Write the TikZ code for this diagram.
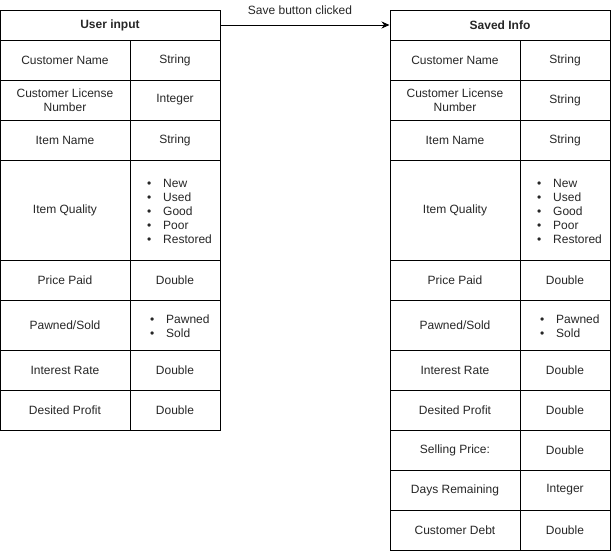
\documentclass[tikz,border=0pt]{standalone}
\usepackage{fontspec}
\setmainfont{Liberation Sans}
\usetikzlibrary{arrows.meta}
\newcommand{\trow}[6]{%
  \node[cell, minimum width=130pt, minimum height={(#4-#3)*1pt}] (#1a) at ({#2+65},{(#3+#4)/2}) {#5};
  \node[cell, minimum width=90pt, minimum height={(#4-#3)*1pt}] (#1b) at ({#2+175},{(#3+#4)/2}) {#6};
}
\newcommand{\lrow}[7]{%
  \node[cell, minimum width=130pt, minimum height={(#4-#3)*1pt}] (#1a) at ({#2+65},{(#3+#4)/2}) {#5};
  \node[cell, minimum width=90pt, minimum height={(#4-#3)*1pt}] (#1b) at ({#2+175},{(#3+#4)/2}) {};
  \node[listtext, anchor=west] (#1c) at ({#2+#7},{(#3+#4)/2+1}) {#6};
}
\newcommand{\bitem}[1]{\makebox[16pt][l]{\textbullet}#1}
\begin{document}
\begin{tikzpicture}[x=1pt,y=-1pt,
  cell/.style={draw=black, line width=1pt, rectangle, inner sep=0pt, align=center, font=\fontsize{12}{14}\selectfont, text=black!85},
  hdr/.style={cell, font=\fontsize{12}{14}\selectfont\bfseries},
  listtext/.style={inner sep=0pt, align=left, font=\fontsize{12}{14}\selectfont, text=black!85},
  conn/.style={draw=black, line width=1pt, -{Stealth[length=8pt,width=7pt]}}]
\useasboundingbox (0,0) rectangle (611,552);
% left table
\node[hdr, minimum width=220pt, minimum height=30pt] (Lh) at (110,25) {User input};
\trow{L1}{0}{40}{80}{Customer Name}{String}
\trow{L2}{0}{80}{120}{Customer License\\Number}{Integer}
\trow{L3}{0}{120}{160}{Item Name}{String}
\lrow{L4}{0}{160}{260}{Item Quality}{\bitem{New}\\\bitem{Used}\\\bitem{Good}\\\bitem{Poor}\\\bitem{Restored}}{147}
\trow{L5}{0}{260}{300}{Price Paid}{Double}
\lrow{L6}{0}{300}{350}{Pawned/Sold}{\bitem{Pawned}\\\bitem{Sold}}{150}
\trow{L7}{0}{350}{390}{Interest Rate}{Double}
\trow{L8}{0}{390}{430}{Desited Profit}{Double}
% right table
\node[hdr, minimum width=220pt, minimum height=30pt] (Rh) at (500,25) {Saved Info};
\trow{R1}{390}{40}{80}{Customer Name}{String}
\trow{R2}{390}{80}{120}{Customer License\\Number}{String}
\trow{R3}{390}{120}{160}{Item Name}{String}
\lrow{R4}{390}{160}{260}{Item Quality}{\bitem{New}\\\bitem{Used}\\\bitem{Good}\\\bitem{Poor}\\\bitem{Restored}}{147}
\trow{R5}{390}{260}{300}{Price Paid}{Double}
\lrow{R6}{390}{300}{350}{Pawned/Sold}{\bitem{Pawned}\\\bitem{Sold}}{150}
\trow{R7}{390}{350}{390}{Interest Rate}{Double}
\trow{R8}{390}{390}{430}{Desited Profit}{Double}
\trow{R9}{390}{430}{470}{Selling Price:}{Double}
\trow{R10}{390}{470}{510}{Days Remaining}{Integer}
\trow{R11}{390}{510}{550}{Customer Debt}{Double}
% connector
\draw[conn] (Lh.east) -- (Rh.west);
\node[listtext] (lbl) at (300,10) {Save button clicked};
\end{tikzpicture}
\end{document}
